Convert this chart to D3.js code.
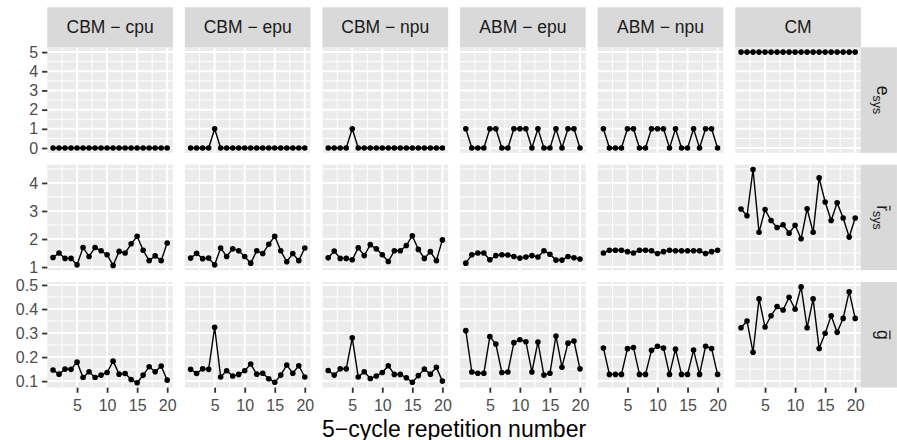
<!DOCTYPE html>
<html>
<head>
<meta charset="utf-8">
<script src="https://cdn.jsdelivr.net/npm/d3@7"></script>
<style>
  body { margin: 0; background: #fff; }
  svg { display: block; }
  text { font-family: "Liberation Sans", Arial, Helvetica, sans-serif; }
</style>
</head>
<body>
<div id="chart"></div>
<script>
// facets (columns) and metrics (rows)
const facets = ["CBM − cpu", "CBM − epu", "CBM − npu", "ABM − epu", "ABM − npu", "CM"];
const reps = [1, 2, 3, 4, 5, 6, 7, 8, 9, 10, 11, 12, 13, 14, 15, 16, 17, 18, 19, 20];
const xTicks = [5, 10, 15, 20];

// e_sys, one series per facet
const eSys = [
    [0, 0, 0, 0, 0, 0, 0, 0, 0, 0, 0, 0, 0, 0, 0, 0, 0, 0, 0, 0],
    [0, 0, 0, 0, 1, 0, 0, 0, 0, 0, 0, 0, 0, 0, 0, 0, 0, 0, 0, 0],
    [0, 0, 0, 0, 1, 0, 0, 0, 0, 0, 0, 0, 0, 0, 0, 0, 0, 0, 0, 0],
    [1, 0, 0, 0, 1, 1, 0, 0, 1, 1, 1, 0, 1, 0, 0, 1, 0, 1, 1, 0],
    [1, 0, 0, 0, 1, 1, 0, 0, 1, 1, 1, 0, 1, 0, 0, 1, 0, 1, 1, 0],
    [5, 5, 5, 5, 5, 5, 5, 5, 5, 5, 5, 5, 5, 5, 5, 5, 5, 5, 5, 5]
];

// mean r_sys
const rSys = [
    [1.34, 1.50, 1.31, 1.31, 1.08, 1.70, 1.38, 1.70, 1.58, 1.44, 1.06, 1.56, 1.50, 1.83, 2.10, 1.60, 1.23, 1.40, 1.23, 1.86],
    [1.32, 1.49, 1.30, 1.32, 1.08, 1.68, 1.38, 1.65, 1.58, 1.38, 1.14, 1.58, 1.48, 1.81, 2.10, 1.58, 1.19, 1.48, 1.23, 1.68],
    [1.33, 1.57, 1.31, 1.31, 1.26, 1.69, 1.41, 1.80, 1.65, 1.44, 1.20, 1.58, 1.58, 1.77, 2.12, 1.63, 1.31, 1.55, 1.23, 1.97],
    [1.14, 1.44, 1.50, 1.50, 1.26, 1.41, 1.44, 1.43, 1.38, 1.32, 1.36, 1.41, 1.36, 1.58, 1.46, 1.25, 1.25, 1.38, 1.33, 1.29],
    [1.50, 1.60, 1.60, 1.60, 1.55, 1.50, 1.60, 1.60, 1.58, 1.48, 1.55, 1.60, 1.58, 1.58, 1.58, 1.58, 1.58, 1.48, 1.55, 1.60],
    [3.07, 2.83, 4.48, 2.24, 3.05, 2.66, 2.41, 2.51, 2.21, 2.49, 2.01, 3.08, 2.24, 4.18, 3.32, 2.66, 3.29, 2.75, 2.07, 2.75]
];

// mean g
const gBar = [
    [0.146, 0.129, 0.150, 0.149, 0.179, 0.115, 0.139, 0.115, 0.125, 0.136, 0.183, 0.129, 0.132, 0.107, 0.093, 0.125, 0.160, 0.139, 0.163, 0.104],
    [0.149, 0.132, 0.151, 0.149, 0.324, 0.117, 0.143, 0.121, 0.128, 0.143, 0.171, 0.129, 0.133, 0.110, 0.095, 0.125, 0.167, 0.133, 0.164, 0.117],
    [0.144, 0.125, 0.151, 0.151, 0.280, 0.117, 0.139, 0.111, 0.121, 0.136, 0.164, 0.128, 0.128, 0.114, 0.095, 0.123, 0.150, 0.129, 0.158, 0.100],
    [0.310, 0.138, 0.133, 0.133, 0.285, 0.254, 0.136, 0.138, 0.260, 0.272, 0.264, 0.138, 0.263, 0.125, 0.133, 0.288, 0.158, 0.258, 0.267, 0.151],
    [0.238, 0.128, 0.128, 0.128, 0.235, 0.240, 0.128, 0.128, 0.228, 0.245, 0.238, 0.128, 0.233, 0.128, 0.128, 0.229, 0.128, 0.245, 0.236, 0.128],
    [0.322, 0.350, 0.220, 0.442, 0.325, 0.372, 0.410, 0.396, 0.449, 0.399, 0.492, 0.322, 0.442, 0.236, 0.299, 0.372, 0.303, 0.361, 0.472, 0.361]
];

const rows = [
    {series: eSys, label: "e", overline: false, sub: "sys"},
    {series: rSys, label: "r", overline: true, sub: "sys"},
    {series: gBar, label: "g", overline: true, sub: null}
];

// layout
const width = 897, height = 440;
const marginLeft = 47.3, marginTop = 47.3;
const panelW = 125.6, panelH = 105.5, gapX = 12, gapY = 11.9;
const stripH = 40, stripW = 36;

const svg = d3.select("#chart").append("svg")
    .attr("width", width)
    .attr("height", height);

// minor breaks halfway between majors, kept inside the domain
function minorBreaks(ticks, domain) {
    const step = ticks[1] - ticks[0];
    const out = [];
    const cands = [ticks[0] - step / 2].concat(ticks.map(t => t + step / 2));
    cands.forEach(m => {
        if (m >= domain[0] && m <= domain[1]) out.push(m);
    });
    return out;
}

const xExt = d3.extent(reps);
const xPad = (xExt[1] - xExt[0]) * 0.05;
const xScale = d3.scaleLinear()
    .domain([xExt[0] - xPad, xExt[1] + xPad])
    .range([0, panelW]);
const xMinor = minorBreaks(xTicks, xScale.domain());

const line = d3.line();

function styleAxis(ax) {
    ax.select(".domain").remove();
    ax.selectAll("line").attr("stroke", "#333333").attr("stroke-width", 1.8);
    ax.selectAll("text")
        .attr("fill", "#4D4D4D")
        .style("font-size", "16px")
        .style("font-family", "Liberation Sans, Arial, sans-serif");
}

rows.forEach((row, r) => {
    const all = row.series.flat();
    const ext = d3.extent(all);
    const pad = (ext[1] - ext[0]) * 0.05;
    const yScale = d3.scaleLinear()
        .domain([ext[0] - pad, ext[1] + pad])
        .range([panelH, 0]);
    const yTicks = yScale.ticks(5);
    const yMinor = minorBreaks(yTicks, yScale.domain());
    const py = marginTop + r * (panelH + gapY);

    row.series.forEach((vals, c) => {
        const px = marginLeft + c * (panelW + gapX);
        const g = svg.append("g").attr("transform", "translate(" + px + "," + py + ")");

        g.append("rect")
            .attr("width", panelW)
            .attr("height", panelH)
            .attr("fill", "#EBEBEB");

        // grid
        g.selectAll(".ymin").data(yMinor).enter().append("line")
            .attr("x1", 0).attr("x2", panelW)
            .attr("y1", d => yScale(d)).attr("y2", d => yScale(d))
            .attr("stroke", "#fff").attr("stroke-width", 1);
        g.selectAll(".xmin").data(xMinor).enter().append("line")
            .attr("y1", 0).attr("y2", panelH)
            .attr("x1", d => xScale(d)).attr("x2", d => xScale(d))
            .attr("stroke", "#fff").attr("stroke-width", 1);
        g.selectAll(".ymaj").data(yTicks).enter().append("line")
            .attr("x1", 0).attr("x2", panelW)
            .attr("y1", d => yScale(d)).attr("y2", d => yScale(d))
            .attr("stroke", "#fff").attr("stroke-width", 2);
        g.selectAll(".xmaj").data(xTicks).enter().append("line")
            .attr("y1", 0).attr("y2", panelH)
            .attr("x1", d => xScale(d)).attr("x2", d => xScale(d))
            .attr("stroke", "#fff").attr("stroke-width", 2);

        const pts = reps.map((d, i) => [xScale(d), yScale(vals[i])]);
        g.append("path")
            .attr("d", line(pts))
            .attr("fill", "none")
            .attr("stroke", "#000")
            .attr("stroke-width", 1.4);
        g.selectAll("circle").data(pts).enter().append("circle")
            .attr("cx", d => d[0])
            .attr("cy", d => d[1])
            .attr("r", 2.8)
            .attr("fill", "#000");

        // y axis on first column
        if (c === 0) {
            const ax = g.append("g")
                .call(d3.axisLeft(yScale).tickValues(yTicks)
                    .tickFormat(yScale.tickFormat(5))
                    .tickSize(5.2).tickPadding(4));
            styleAxis(ax);
        }

        // x axis on bottom row
        if (r === rows.length - 1) {
            const ax = g.append("g")
                .attr("transform", "translate(0," + panelH + ")")
                .call(d3.axisBottom(xScale).tickValues(xTicks)
                    .tickFormat(d3.format("d"))
                    .tickSize(5.2).tickPadding(7));
            styleAxis(ax);
        }

        // top strips
        if (r === 0) {
            svg.append("rect")
                .attr("x", px).attr("y", marginTop - stripH)
                .attr("width", panelW).attr("height", stripH)
                .attr("fill", "#D9D9D9");
            svg.append("text")
                .attr("x", px + panelW / 2)
                .attr("y", marginTop - stripH / 2 + 5.8)
                .attr("text-anchor", "middle")
                .attr("fill", "#1A1A1A")
                .style("font-size", "17.5px")
                .text(facets[c]);
        }
    });

    // right strip
    const sx = marginLeft + facets.length * panelW + (facets.length - 1) * gapX;
    svg.append("rect")
        .attr("x", sx).attr("y", py)
        .attr("width", stripW).attr("height", panelH)
        .attr("fill", "#D9D9D9");
    const lab = svg.append("g")
        .attr("transform", "translate(" + (sx + 16.5) + "," + (py + panelH / 2) + ") rotate(90)");
    const t = lab.append("text")
        .attr("fill", "#1A1A1A")
        .style("font-size", "17.5px");
    const main = t.append("tspan").text(row.label);
    if (row.sub) {
        t.append("tspan")
            .attr("dy", 4)
            .style("font-size", "12.5px")
            .text(row.sub);
    }
    const total = t.node().getComputedTextLength();
    const mainW = main.node().getComputedTextLength();
    t.attr("x", -total / 2);
    if (row.overline) {
        lab.append("line")
            .attr("x1", -total / 2 + 0.5)
            .attr("x2", -total / 2 + mainW - 0.5)
            .attr("y1", -12.5).attr("y2", -12.5)
            .attr("stroke", "#1A1A1A")
            .attr("stroke-width", 1.2);
    }
});

// x axis title
svg.append("text")
    .attr("x", marginLeft + (facets.length * panelW + (facets.length - 1) * gapX) / 2)
    .attr("y", 436.5)
    .attr("text-anchor", "middle")
    .attr("fill", "#000")
    .style("font-size", "23px")
    .text("5−cycle repetition number");
</script>
</body>
</html>
